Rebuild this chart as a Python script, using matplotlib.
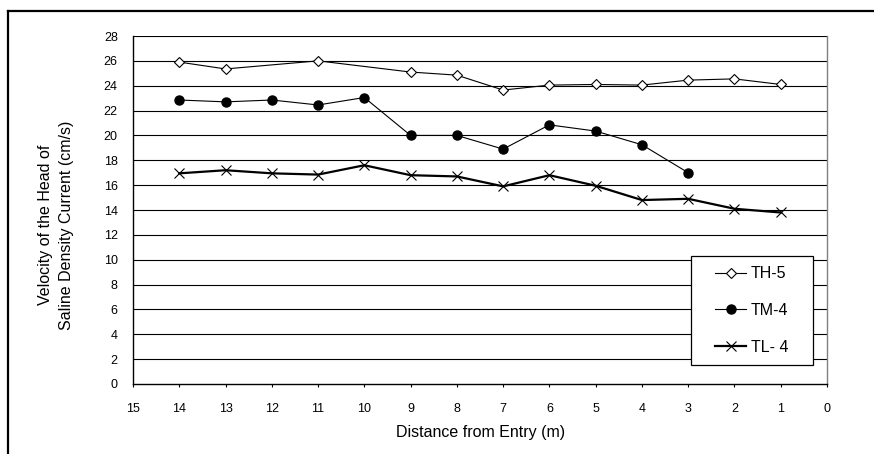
import matplotlib
matplotlib.use("Agg")
import matplotlib.pyplot as plt
from matplotlib.lines import Line2D
from matplotlib.patches import Rectangle

plt.rcParams['font.family'] = ['Liberation Sans', 'DejaVu Sans']

# data
th5_x = [14, 13, 11, 9, 8, 7, 6, 5, 4, 3, 2, 1]
th5_v = [25.9, 25.35, 26.0, 25.1, 24.85, 23.65, 24.05, 24.1, 24.05, 24.45, 24.55, 24.1]

tm4_x = [14, 13, 12, 11, 10, 9, 8, 7, 6, 5, 4, 3]
tm4_v = [22.85, 22.7, 22.85, 22.45, 23.05, 20.0, 20.0, 18.9, 20.85, 20.35, 19.25, 17.0]

tl4_x = [14, 13, 12, 11, 10, 9, 8, 7, 6, 5, 4, 3, 2, 1]
tl4_v = [16.95, 17.2, 16.95, 16.85, 17.6, 16.8, 16.7, 15.9, 16.8, 15.95, 14.8, 14.9, 14.1, 13.8]

labels = ['TH-5', 'TM-4', 'TL- 4']
x_ticks = list(range(0, 16))
y_ticks = list(range(0, 29, 2))

fig = plt.figure(figsize=(8.74, 4.54), dpi=100)
ax = fig.add_axes([133 / 874, 70 / 454, 694 / 874, 348 / 454])

# horizontal gridlines
for y in y_ticks[1:]:
    ax.axhline(y, color='black', lw=0.8, zorder=1)

ax.plot(th5_x, th5_v, color='black', lw=0.8, marker='D', ms=5.5,
        mfc='white', mec='black', mew=0.8, label=labels[0], zorder=3)
ax.plot(tm4_x, tm4_v, color='black', lw=0.8, marker='o', ms=6.5,
        mfc='black', mec='black', label=labels[1], zorder=3)
ax.plot(tl4_x, tl4_v, color='black', lw=1.6, marker='x', ms=7,
        mec='black', mew=0.8, label=labels[2], zorder=3)

ax.set_xlim(15, 0)
ax.set_ylim(0, 28)
ax.set_xticks(x_ticks)
ax.set_yticks(y_ticks)
ax.tick_params(axis='y', length=0, pad=11, labelsize=9)
ax.tick_params(axis='x', length=2.5, width=0.8, pad=11, labelsize=9, direction='out')

ax.spines['top'].set_visible(False)
ax.spines['left'].set_color('black')
ax.spines['bottom'].set_color('black')
ax.spines['left'].set_linewidth(1.0)
ax.spines['bottom'].set_linewidth(1.0)
ax.spines['right'].set_color('#808080')
ax.spines['right'].set_linewidth(1.0)

# legend box
box = Rectangle((0.8036, 0.0546), 0.1758, 0.3132, transform=ax.transAxes,
                facecolor='white', edgecolor='black', lw=0.9, zorder=4)
ax.add_patch(box)
leg = ax.legend(loc='center', bbox_to_anchor=(0.8915, 0.2112), frameon=False,
                fontsize=11.5, labelspacing=1.35, handlelength=1.9,
                handletextpad=0.3, borderpad=0)
leg.set_zorder(5)

fig.text(56 / 874, 1 - 225 / 454,
         'Velocity of the Head of\nSaline Density Current (cm/s)',
         rotation=90, ha='center', va='center', multialignment='center',
         fontsize=11.5, linespacing=1.45)
fig.text(480.5 / 874, 1 - 433 / 454, 'Distance from Entry (m)',
         ha='center', va='center', fontsize=11.5)

# outer frame (top and left edges only visible)
fig.add_artist(Line2D([8 / 874, 1], [1 - 10.5 / 454, 1 - 10.5 / 454],
                      transform=fig.transFigure, color='black', lw=1.6))
fig.add_artist(Line2D([8 / 874, 8 / 874], [0, 1 - 10.5 / 454],
                      transform=fig.transFigure, color='black', lw=1.6))

fig.savefig('out.png', dpi=100)
